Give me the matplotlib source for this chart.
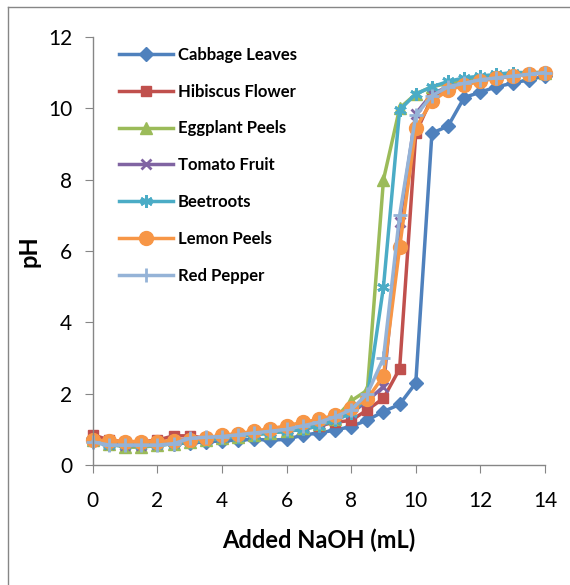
import matplotlib.pyplot as plt
from matplotlib.lines import Line2D

# added NaOH volume (mL)
naoh = [0, 0.5, 1, 1.5, 2, 2.5, 3, 3.5, 4, 4.5, 5, 5.5, 6, 6.5, 7,
        7.5, 8, 8.5, 9, 9.5, 10, 10.5, 11, 11.5, 12, 12.5, 13, 13.5, 14]

cabbage = [0.75, 0.6, 0.55, 0.55, 0.58, 0.6, 0.62, 0.65, 0.68, 0.7, 0.72, 0.7, 0.72, 0.84, 0.9,
           0.98, 1.08, 1.26, 1.5, 1.7, 2.3, 9.3, 9.5, 10.3, 10.45, 10.6, 10.7, 10.8, 10.9]
hibiscus = [0.85, 0.7, 0.65, 0.65, 0.7, 0.82, 0.82, 0.75, 0.8, 0.85, 0.9, 0.92, 0.95, 1.0, 1.1,
            1.2, 1.25, 1.55, 1.87, 2.7, 9.3, 10.3, 10.6, 10.7, 10.8, 10.85, 10.9, 10.95, 11.0]
eggplant = [0.7, 0.6, 0.5, 0.5, 0.55, 0.6, 0.65, 0.7, 0.75, 0.8, 0.85, 0.9, 0.95, 1.05, 1.15,
            1.3, 1.8, 2.1, 8.0, 10.0, 10.4, 10.6, 10.7, 10.8, 10.85, 10.9, 10.95, 11.0, 11.0]
tomato = [0.7, 0.6, 0.55, 0.55, 0.6, 0.7, 0.7, 0.72, 0.78, 0.85, 0.9, 0.95, 1.0, 1.1, 1.2,
          1.3, 1.45, 1.8, 2.2, 6.8, 9.85, 10.4, 10.6, 10.7, 10.8, 10.85, 10.9, 10.95, 11.0]
beetroot = [0.65, 0.55, 0.55, 0.55, 0.55, 0.6, 0.65, 0.7, 0.75, 0.8, 0.85, 0.9, 0.95, 1.0, 1.1,
            1.25, 1.45, 1.9, 5.0, 9.95, 10.4, 10.6, 10.75, 10.85, 10.9, 10.95, 11.0, 11.0, 11.0]
lemon = [0.7, 0.68, 0.66, 0.66, 0.66, 0.68, 0.7, 0.76, 0.84, 0.88, 0.95, 1.02, 1.1, 1.2, 1.28,
         1.4, 1.6, 1.85, 2.5, 6.1, 9.45, 10.2, 10.5, 10.65, 10.75, 10.85, 10.9, 10.95, 11.0]
pepper = [0.65, 0.56, 0.56, 0.56, 0.56, 0.6, 0.75, 0.78, 0.8, 0.85, 0.9, 0.95, 1.0, 1.1, 1.2,
          1.35, 1.55, 2.0, 3.0, 7.0, 9.8, 10.35, 10.6, 10.7, 10.8, 10.85, 10.9, 10.95, 11.0]

names = ['Cabbage Leaves', 'Hibiscus Flower', 'Eggplant Peels', 'Tomato Fruit',
         'Beetroots', 'Lemon Peels', 'Red Pepper']
series = [cabbage, hibiscus, eggplant, tomato, beetroot, lemon, pepper]
colors = ['#4F81BD', '#C0504D', '#9BBB59', '#8064A2', '#4BACC6', '#F79646', '#95B3D7']
markers = ['D', 's', '^', 'x', (6, 2, 0), 'o', '+']
msizes = [7, 7, 8, 7, 9, 10, 10]

plt.rcParams['font.family'] = ['Lato', 'DejaVu Sans']

fig = plt.figure(figsize=(5.7, 5.85), dpi=100)
ax = fig.add_axes([0.163, 0.205, 0.793, 0.732])

for ys, nm, c, m, ms in zip(series, names, colors, markers, msizes):
    ax.plot(naoh, ys, color=c, lw=2.5, marker=m, ms=ms, mew=2 if m in ('x', '+', (6, 2, 0)) else 1,
            mec=c, mfc=c, label=nm, clip_on=False)

ax.set_xlim(0, 14)
ax.set_ylim(0, 12)
ax.set_xticks(range(0, 15, 2))
ax.set_yticks(range(0, 13, 2))
for s in ['top', 'right']:
    ax.spines[s].set_visible(False)
for s in ['left', 'bottom']:
    ax.spines[s].set_color('#868686')
    ax.spines[s].set_linewidth(1)
ax.tick_params(direction='out', length=6, color='#868686', labelsize=15)
ax.tick_params(axis='x', pad=13)
ax.tick_params(axis='y', pad=9)

ax.set_xlabel('Added NaOH (mL)', fontsize=17, fontweight='bold', labelpad=12)
ax.set_ylabel('pH', fontsize=17, fontweight='bold', labelpad=5)

leg = ax.legend(loc='upper left', bbox_to_anchor=(0.025, 1.012), frameon=False,
                prop={'weight': 'bold', 'size': 12}, handlelength=3.2,
                labelspacing=1.25, handletextpad=0.3)

# outer chart border (cropped at right and bottom)
fig.add_artist(Line2D([8 / 570, 8 / 570], [-0.1, 1 - 7 / 585], color='#868686', lw=1))
fig.add_artist(Line2D([8 / 570, 1.1], [1 - 7 / 585, 1 - 7 / 585], color='#868686', lw=1))

fig.savefig('out.png', dpi=100)
